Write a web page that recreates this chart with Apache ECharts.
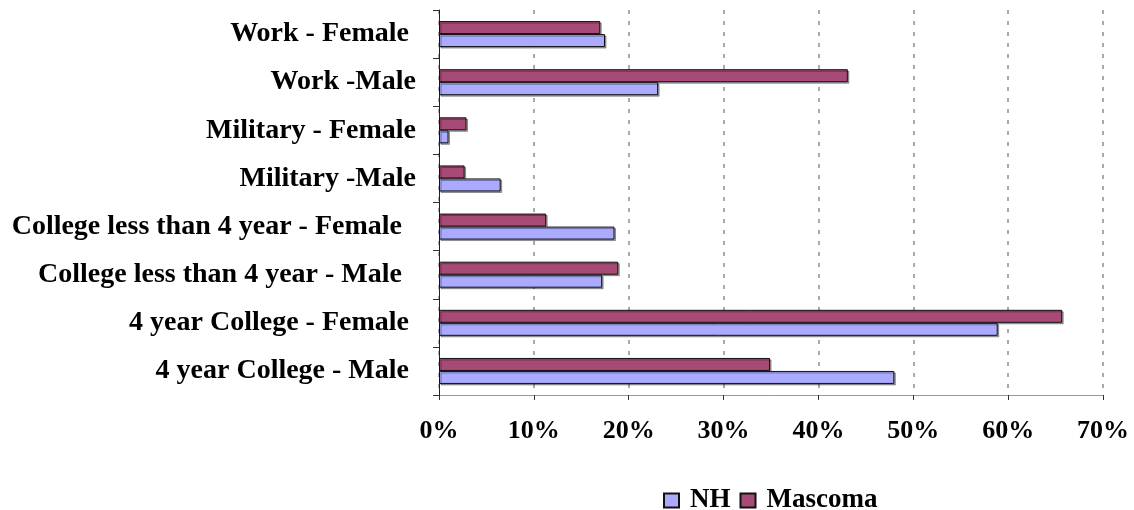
<!DOCTYPE html>
<html>
<head>
<meta charset="utf-8">
<style>
html,body{margin:0;padding:0;background:#fff;}
#chart{width:1134px;height:510px;}
</style>
<script src="https://cdn.jsdelivr.net/npm/echarts@6/dist/echarts.min.js"></script>
</head>
<body>
<div id="chart"></div>
<script>
var categories = [
  "4 year College - Male ",
  "4 year College - Female ",
  "College less than 4 year - Male  ",
  "College less than 4 year - Female  ",
  "Military -Male",
  "Military - Female",
  "Work -Male",
  "Work - Female "
];
var nhValues = [48.0, 58.9, 17.2, 18.5, 6.5, 1.0, 23.1, 17.5];
var mascomaValues = [34.9, 65.7, 18.9, 11.3, 2.7, 2.9, 43.1, 17.0];
var xTicks = [0, 10, 20, 30, 40, 50, 60, 70];

var FONT = "'Liberation Serif', 'Times New Roman', serif";
var chart = echarts.init(document.getElementById('chart'), null, {renderer: 'canvas'});
chart.setOption({
  animation: false,
  backgroundColor: '#ffffff',
  grid: {left: 439, right: 31, top: 10, bottom: 115, containLabel: false},
  legend: {
    data: ['NH', 'Mascoma'],
    left: 658,
    top: 482,
    itemWidth: 15,
    itemHeight: 14,
    itemGap: 9,
    icon: 'rect',
    textStyle: {fontFamily: FONT, fontWeight: 'bold', fontSize: 27, color: '#000', padding: [0, 0, 0, 6]}
  },
  xAxis: {
    type: 'value',
    min: xTicks[0],
    max: xTicks[xTicks.length - 1],
    interval: 10,
    axisLine: {show: true, lineStyle: {color: '#999', width: 1}},
    axisTick: {show: true, length: 5, lineStyle: {color: '#333'}},
    axisLabel: {
      formatter: function (v) { return v + '%'; },
      fontFamily: FONT, fontWeight: 'bold', fontSize: 26, color: '#000', margin: 23
    },
    splitLine: {show: true, lineStyle: {color: '#aaa', width: 2, type: [4, 7]}}
  },
  yAxis: {
    type: 'category',
    data: categories,
    axisLine: {show: true, lineStyle: {color: '#222', width: 1}},
    axisTick: {show: true, length: 6, lineStyle: {color: '#333'}},
    axisLabel: {fontFamily: FONT, fontWeight: 'bold', fontSize: 28, color: '#000', margin: 23},
    splitLine: {show: false}
  },
  series: [
    {
      name: 'Mascoma', type: 'bar', data: mascomaValues,
      barWidth: 13, barGap: '0%',
      itemStyle: {color: '#A84A76', borderColor: '#111', borderWidth: 1,
        shadowColor: 'rgba(0,0,0,0.35)', shadowOffsetX: 1.5, shadowOffsetY: 1.5, shadowBlur: 0}
    },
    {
      name: 'NH', type: 'bar', data: nhValues,
      barWidth: 13, barGap: '0%',
      itemStyle: {color: '#AAAAFF', borderColor: '#111', borderWidth: 1,
        shadowColor: 'rgba(0,0,0,0.35)', shadowOffsetX: 1.5, shadowOffsetY: 1.5, shadowBlur: 0}
    }
  ]
});
</script>
</body>
</html>
